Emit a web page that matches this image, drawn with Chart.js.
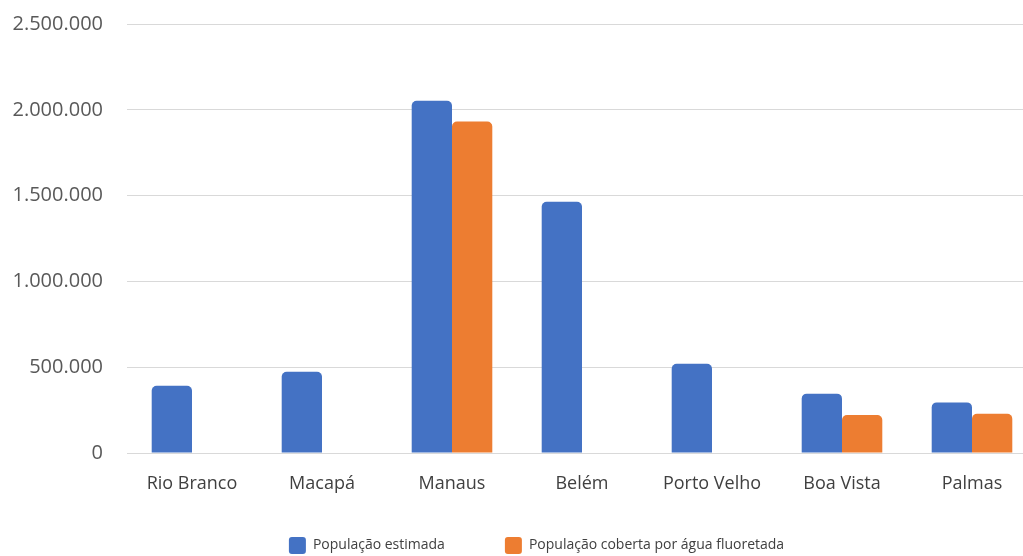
<!DOCTYPE html>
<html>
<head>
<meta charset="utf-8">
<script src="https://cdn.jsdelivr.net/npm/chart.js@4/dist/chart.umd.min.js"></script>
<style>
  html, body { margin: 0; padding: 0; background: #fff; overflow: hidden; }
  #wrap { width: 1040px; height: 556px; position: relative; }
</style>
</head>
<body>
<div id="wrap"><canvas id="chart"></canvas></div>
<script>
const cities = ["Rio Branco", "Macapá", "Manaus", "Belém", "Porto Velho", "Boa Vista", "Palmas"]
const estimated = [392000, 474000, 2053000, 1464000, 520000, 346000, 295000]
const fluoridated = [null, null, 1932000, null, null, 221000, 229000]
const yTicks = [0, 500000, 1000000, 1500000, 2000000, 2500000]

const fontFamily = "'Open Sans', 'Noto Sans', sans-serif"

// thousands separated by dots, e.g. 2.500.000
function fmt(v) {
  return String(v).replace(/\B(?=(\d{3})+(?!\d))/g, ".")
}

// stretch the legend box upwards (the wide item padding also applies
// vertically) and move it a bit right of centre
const legendShift = {
  id: "legendShift",
  afterLayout(chart) {
    const lg = chart.legend
    if (!lg) return
    lg.left += 18
    lg.right += 18
    lg.top -= 21
  }
}

const ctx = document.getElementById("chart").getContext("2d")
new Chart(ctx, {
  type: "bar",
  data: {
    labels: cities,
    datasets: [
      {
        label: "População estimada",
        data: estimated,
        backgroundColor: "#4472C4",
        borderRadius: { topLeft: 5, topRight: 5 },
        borderSkipped: "bottom"
      },
      {
        label: "População coberta por água fluoretada",
        data: fluoridated,
        backgroundColor: "#ED7D31",
        borderRadius: { topLeft: 5, topRight: 5 },
        borderSkipped: "bottom"
      }
    ]
  },
  plugins: [legendShift],
  options: {
    responsive: true,
    maintainAspectRatio: false,
    animation: false,
    datasets: {
      bar: { categoryPercentage: 0.62, barPercentage: 1 }
    },
    layout: { padding: { top: 24, right: 3, bottom: 0, left: 0 } },
    plugins: {
      tooltip: { enabled: false },
      legend: {
        position: "bottom",
        maxHeight: 58,
        labels: {
          font: { family: fontFamily, size: 14 },
          color: "#404040",
          boxWidth: 17,
          boxHeight: 17,
          useBorderRadius: true,
          borderRadius: 3,
          padding: 60
        }
      }
    },
    scales: {
      x: {
        afterFit(scale) { scale.height = 45 },
        grid: { display: false },
        border: { display: false },
        ticks: {
          font: { family: fontFamily, size: 18 },
          color: "#404040",
          padding: 12
        }
      },
      y: {
        min: 0,
        max: 2500000,
        afterFit(scale) {
          scale.width = 127
          scale.paddingTop = 0
          scale.paddingBottom = 0
        },
        afterBuildTicks(scale) { scale.ticks = yTicks.map(v => ({ value: v })) },
        grid: { color: "#d9d9d9", lineWidth: 1, drawTicks: false },
        border: { display: false },
        ticks: {
          font: { family: fontFamily, size: 20 },
          color: "#595959",
          padding: 24,
          callback: v => fmt(v)
        }
      }
    }
  }
})
</script>
</body>
</html>
